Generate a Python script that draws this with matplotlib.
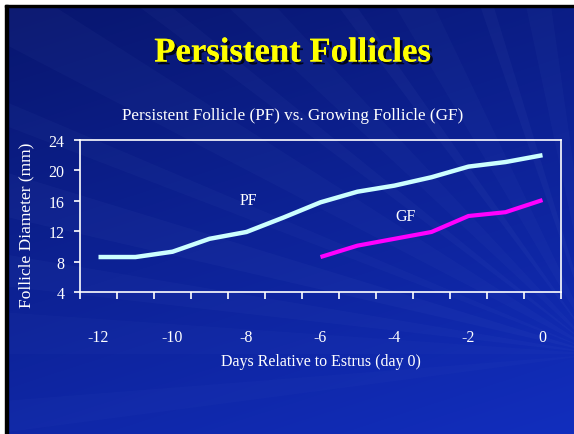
import numpy as np
import matplotlib
matplotlib.use("Agg")
from matplotlib import pyplot as plt
from matplotlib import patheffects
from matplotlib.patches import Polygon, Rectangle
from matplotlib.ticker import FixedLocator

# follicle diameter (mm) by day relative to estrus
pf_days = [-12, -11, -10, -9, -8, -7, -6, -5, -4, -3, -2, -1, 0]
pf_diam = [8.6, 8.6, 9.3, 11.0, 11.9, 13.8, 15.8, 17.2, 18.0, 19.1, 20.5, 21.1, 22.0]
gf_days = [-6, -5, -4, -3, -2, -1, 0]
gf_diam = [8.6, 10.1, 11.0, 11.9, 14.0, 14.5, 16.1]

x_ticks = [-12, -10, -8, -6, -4, -2, 0]
y_ticks = [4, 8, 12, 16, 20, 24]

W, H = 574, 435
serif = "Liberation Serif"

fig = plt.figure(figsize=(W / 100, H / 100), dpi=100)

# slide background: page margin, frame line, blue gradient and light rays
bg = fig.add_axes([0, 0, 1, 1])
bg.set_xlim(0, W)
bg.set_ylim(H, 0)
bg.axis("off")
bg.add_patch(Rectangle((0, 0), W, H, color="white", zorder=0))

yy, xx = np.mgrid[0:H, 0:W]
t = np.clip(0.7 * yy / H + 0.3 * xx / W, 0, 1)[..., None]
c0 = np.array([8, 22, 110]) / 255
c1 = np.array([18, 46, 190]) / 255
grad = c0 * (1 - t) + c1 * t
bg.imshow(grad, extent=(7, W, H, 8), aspect="auto", zorder=2)

focus = (600, 355)
rays = [(100, 4, 0.03), (108, 2, 0.04), (118, 5, 0.03), (126, 2, 0.04),
        (135, 4, 0.03), (142, 2, 0.035), (150, 5, 0.03), (158, 2, 0.03),
        (165, 4, 0.035), (172, 3, 0.03), (178, 4, 0.025), (186, 3, 0.025)]
for ang, width, alpha in rays:
    a1 = np.radians(ang - width / 2)
    a2 = np.radians(ang + width / 2)
    r = 900
    pts = [focus,
           (focus[0] + r * np.cos(a1), focus[1] - r * np.sin(a1)),
           (focus[0] + r * np.cos(a2), focus[1] - r * np.sin(a2))]
    bg.add_patch(Polygon(pts, closed=True, color="#a8c0ff", alpha=alpha,
                         lw=0, zorder=3))
bg.add_patch(Rectangle((0, 0), W, 6, color="white", zorder=4))
bg.add_patch(Rectangle((0, 0), 5, H, color="white", zorder=4))
bg.add_patch(Rectangle((5, 6), W, 2, color="black", zorder=4))
bg.add_patch(Rectangle((5, 6), 2.5, H, color="black", zorder=4))

# titles
fig.text(292.5 / W, 1 - 54 / H, "Persistent Follicles", ha="center",
         va="center", color="#ffff00", fontsize=25, fontweight="bold",
         family=serif,
         path_effects=[patheffects.withSimplePatchShadow(offset=(2, -2),
                                                         shadow_rgbFace="black",
                                                         alpha=0.8),
                       patheffects.Normal()])
fig.text(292.5 / W, 1 - 116 / H,
         "Persistent Follicle (PF) vs. Growing Follicle (GF)",
         ha="center", va="center", color="white", fontsize=12.3, family=serif)

# chart
ax = fig.add_axes([80 / W, (H - 293) / H, 481 / W, 152 / H])
ax.set_facecolor("none")
ax.plot(pf_days, pf_diam, color="#ccffff", lw=3.2, solid_capstyle="butt")
ax.plot(gf_days, gf_diam, color="#ff00ff", lw=3.0, solid_capstyle="butt")

ax.text(-7.96, 16.1, "PF", color="white", fontsize=11.5, family=serif,
        ha="center", va="center")
ax.text(-3.7, 14.0, "GF", color="white", fontsize=11.5, family=serif,
        ha="center", va="center")

ax.set_xlim(-12.5, 0.5)
ax.set_ylim(4, 24)
ax.set_xticks(x_ticks)
ax.set_xticklabels([str(v) for v in x_ticks])
ax.xaxis.set_minor_locator(FixedLocator(np.arange(-12.5, 1, 1)))
ax.set_yticks(y_ticks)
ax.tick_params(axis="x", which="major", length=0, pad=27, colors="white",
               labelsize=11.5)
ax.tick_params(axis="x", which="minor", length=5, width=1.2, direction="out",
               color="white")
ax.tick_params(axis="y", length=4, width=1.2, direction="out", colors="white",
               labelsize=11.5, pad=7)
for lbl in ax.get_xticklabels() + ax.get_yticklabels():
    lbl.set_family(serif)
for side in ["left", "right", "top", "bottom"]:
    ax.spines[side].set_color("white")
    ax.spines[side].set_linewidth(1.2)

ax.set_xlabel("Days Relative to Estrus (day 0)", color="white", fontsize=11.5,
              family=serif)
ax.xaxis.set_label_coords(0.5, (293 - 362) / 152)
ax.set_ylabel("Follicle Diameter (mm)", color="white", fontsize=12.5,
              family=serif)
ax.yaxis.set_label_coords((26 - 80) / 481, (293 - 225) / 152)
for child in [ax.xaxis.label, ax.yaxis.label]:
    child.set_va("center")

fig.savefig("out.png", dpi=100)
